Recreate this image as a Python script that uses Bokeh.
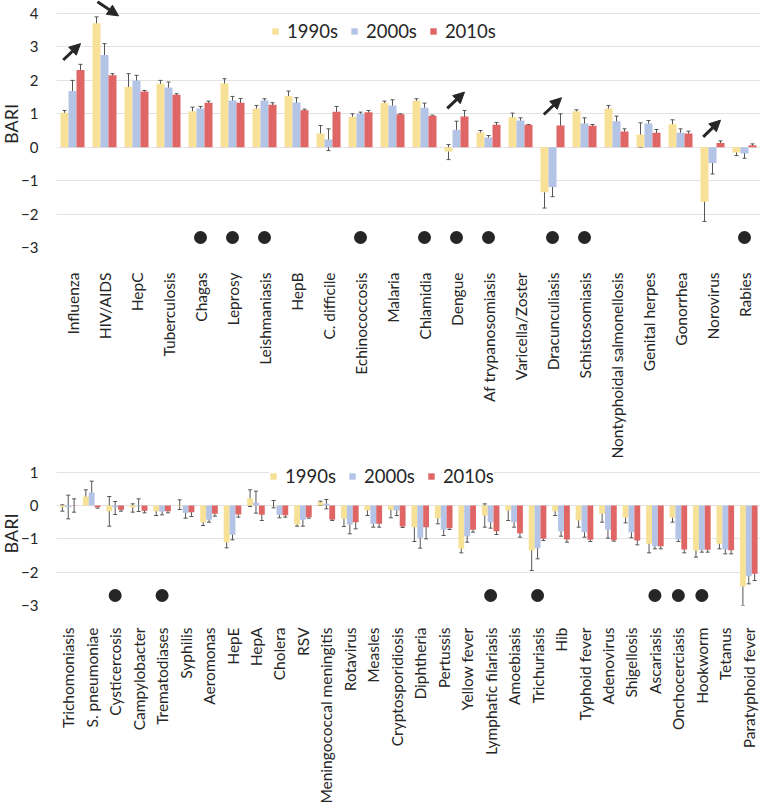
import math
from bokeh.plotting import figure
from bokeh.models import (ColumnDataSource, FactorRange, Range1d, FixedTicker, Whisker, TeeHead,
                          Legend, LegendItem, Arrow, NormalHead, Title)
from bokeh.transform import dodge
from bokeh.layouts import column
from bokeh.embed import file_html
from bokeh.resources import INLINE

# ---------------- data: top panel ----------------
top_cats = ["Influenza", "HIV/AIDS", "HepC", "Tuberculosis", "Chagas", "Leprosy", "Leishmaniasis",
            "HepB", "C. difficile", "Echinococcosis", "Malaria", "Chlamidia", "Dengue",
            "Af trypanosomiasis", "Varicella/Zoster", "Dracunculiasis", "Schistosomiasis",
            "Nontyphoidal salmonellosis", "Genital herpes", "Gonorrhea", "Norovirus", "Rabies"]
top_1990 = [1.03, 3.71, 1.80, 1.90, 1.08, 1.91, 1.16, 1.53, 0.41, 0.91, 1.32, 1.39, -0.13, 0.44,
            0.90, -1.35, 1.08, 1.16, 0.38, 0.69, -1.63, -0.16]
top_1990_lo = [0.95, 3.55, 1.35, 1.80, 0.95, 1.78, 1.05, 1.40, 0.15, 0.82, 1.26, 1.32, -0.37, 0.38,
               0.80, -1.82, 1.03, 1.08, 0.00, 0.58, -2.22, -0.25]
top_1990_hi = [1.10, 3.90, 2.20, 2.00, 1.20, 2.05, 1.25, 1.68, 0.65, 1.00, 1.38, 1.45, 0.08, 0.50,
               1.02, -0.95, 1.12, 1.25, 0.73, 0.82, -1.03, -0.10]
top_2000 = [1.68, 2.76, 2.00, 1.79, 1.16, 1.40, 1.40, 1.34, 0.23, 1.00, 1.25, 1.18, 0.52, 0.29,
            0.80, -1.19, 0.71, 0.78, 0.71, 0.43, -0.47, -0.19]
top_2000_lo = [1.40, 2.40, 1.80, 1.60, 1.08, 1.28, 1.35, 1.20, -0.10, 0.95, 1.10, 1.05, 0.25, 0.22,
               0.72, -1.48, 0.55, 0.65, 0.62, 0.30, -0.80, -0.33]
top_2000_hi = [2.00, 3.10, 2.15, 1.95, 1.22, 1.52, 1.45, 1.48, 0.55, 1.05, 1.42, 1.32, 0.78, 0.35,
               0.88, -0.95, 0.88, 0.93, 0.80, 0.55, -0.15, -0.08]
top_2010 = [2.31, 2.15, 1.67, 1.57, 1.33, 1.33, 1.27, 1.11, 1.06, 1.05, 0.99, 0.94, 0.92, 0.67,
            0.67, 0.65, 0.64, 0.47, 0.43, 0.41, 0.13, 0.06]
top_2010_lo = [2.20, 2.10, 1.63, 1.54, 1.28, 1.20, 1.20, 1.08, 0.90, 1.00, 0.97, 0.92, 0.75, 0.60,
               0.65, 0.30, 0.60, 0.40, 0.33, 0.35, 0.07, 0.02]
top_2010_hi = [2.48, 2.20, 1.70, 1.60, 1.38, 1.46, 1.33, 1.14, 1.22, 1.10, 1.00, 0.96, 1.10, 0.74,
               0.68, 1.00, 0.68, 0.55, 0.53, 0.48, 0.19, 0.10]
top_marked = ["Chagas", "Leprosy", "Leishmaniasis", "Echinococcosis", "Chlamidia", "Dengue",
              "Af trypanosomiasis", "Dracunculiasis", "Schistosomiasis", "Rabies"]
top_arrow_cats = ["Influenza", "HIV/AIDS", "Dengue", "Dracunculiasis", "Norovirus"]
top_arrow_dx0 = [-0.29, -0.22, -0.29, -0.27, -0.29]
top_arrow_dx1 = [0.25, 0.44, 0.25, 0.28, 0.25]
top_arrow_y0 = [2.61, 4.35, 1.16, 0.98, 0.31]
top_arrow_y1 = [3.10, 3.93, 1.65, 1.48, 0.81]

# ---------------- data: bottom panel ----------------
bot_cats = ["Trichomoniasis", "S. pneumoniae", "Cysticercosis", "Campylobacter", "Trematodiases",
            "Syphilis", "Aeromonas", "HepE", "HepA", "Cholera", "RSV", "Meningococcal meningitis",
            "Rotavirus", "Measles", "Cryptosporidiosis", "Diphtheria", "Pertussis", "Yellow fever",
            "Lymphatic filariasis", "Amoebiasis", "Trichuriasis", "Hib", "Typhoid fever",
            "Adenovirus", "Shigellosis", "Ascariasis", "Onchocerciasis", "Hookworm", "Tetanus",
            "Paratyphoid fever"]
bot_1990 = [-0.05, 0.27, -0.17, -0.06, -0.17, -0.02, -0.50, -1.10, 0.22, -0.01, -0.57, 0.10, -0.40,
            -0.15, -0.13, -0.65, -0.38, -1.30, -0.30, -0.15, -1.35, -0.17, -0.45, -0.25, -0.37,
            -1.15, -0.37, -1.35, -1.15, -2.43]
bot_1990_lo = [-0.17, 0.07, -0.62, -0.20, -0.30, -0.12, -0.60, -1.27, -0.03, -0.07, -0.62, 0.00,
               -0.63, -0.30, -0.37, -1.08, -0.55, -1.42, -0.65, -0.45, -1.95, -0.30, -0.65, -0.50,
               -0.52, -1.42, -0.50, -1.55, -1.30, -3.00]
bot_1990_hi = [0.02, 0.47, 0.27, 0.05, -0.12, 0.17, -0.43, -0.97, 0.47, 0.15, -0.50, 0.13, -0.13,
               -0.10, -0.10, -0.20, -0.35, -1.23, 0.05, -0.10, -0.75, -0.12, -0.25, -0.05, -0.25,
               -0.92, -0.22, -1.20, -1.00, -1.83]
bot_2000 = [-0.05, 0.39, -0.05, -0.02, -0.18, -0.22, -0.43, -0.88, 0.08, -0.28, -0.43, 0.05, -0.57,
            -0.55, -0.15, -0.97, -0.73, -0.92, -0.50, -0.50, -1.28, -0.77, -0.80, -0.72, -0.80,
            -1.22, -1.02, -1.33, -1.32, -2.12]
bot_2000_lo = [-0.40, 0.05, -0.27, -0.18, -0.28, -0.38, -0.50, -1.03, -0.23, -0.37, -0.62, -0.10,
               -0.85, -0.65, -0.30, -1.28, -0.90, -1.10, -0.68, -0.65, -1.60, -0.92, -0.95, -0.98,
               -0.97, -1.30, -1.08, -1.40, -1.45, -2.35]
bot_2000_hi = [0.31, 0.73, 0.12, 0.20, -0.12, -0.10, -0.38, -0.75, 0.43, -0.15, -0.33, 0.18, -0.40,
               -0.50, -0.10, -0.60, -0.55, -0.75, -0.35, -0.40, -0.95, -0.62, -0.70, -0.50, -0.63,
               -1.10, -0.98, -1.25, -1.25, -1.90]
bot_2010 = [-0.01, -0.05, -0.13, -0.16, -0.17, -0.20, -0.25, -0.27, -0.28, -0.29, -0.35, -0.42,
            -0.50, -0.55, -0.63, -0.65, -0.68, -0.73, -0.77, -0.83, -1.00, -1.02, -1.03, -1.04,
            -1.05, -1.22, -1.32, -1.33, -1.34, -2.05]
bot_2010_lo = [-0.20, -0.08, -0.17, -0.22, -0.22, -0.33, -0.32, -0.35, -0.45, -0.35, -0.38, -0.45,
               -0.70, -0.65, -0.66, -1.00, -0.72, -0.80, -0.87, -0.95, -1.05, -1.10, -1.08, -1.07,
               -1.18, -1.30, -1.42, -1.40, -1.45, -2.25]
bot_2010_hi = [0.20, -0.03, -0.10, -0.13, -0.10, -0.10, -0.20, -0.22, -0.15, -0.20, -0.30, -0.40,
               -0.38, -0.50, -0.60, -0.30, -0.60, -0.68, -0.68, -0.80, -0.95, -0.95, -0.98, -0.98,
               -0.90, -1.15, -1.28, -1.27, -1.25, -1.82]
bot_marked = ["Cysticercosis", "Trematodiases", "Lymphatic filariasis", "Trichuriasis",
              "Ascariasis", "Onchocerciasis", "Hookworm"]

series_names = ["1990s", "2000s", "2010s"]
marker_level = -2.7
y_title = "BARI"

# ---------------- styles ----------------
FONT = "Lato"
COLORS = ["#f7e196", "#b4c4e6", "#e06666"]
OFFSETS = [-0.25, 0.0, 0.25]
TEXT = "#262626"


def make_panel(cats, vals, los, his, marked, y_lo, y_hi, ticks, frame_h, legend_loc,
               x_standoff, arrows=None):
    p = figure(x_range=FactorRange(*cats), y_range=Range1d(y_lo, y_hi),
               frame_width=704, frame_height=frame_h,
               min_border_left=0, min_border_right=2, min_border_top=0, min_border_bottom=0,
               output_backend="svg", toolbar_location=None)
    p.outline_line_color = None
    p.xgrid.grid_line_color = None
    p.ygrid.grid_line_color = "#e3e3e3"
    p.ygrid.grid_line_width = 1

    src = {"cat": cats}
    for i in range(3):
        src[f"v{i}"] = vals[i]
        src[f"lo{i}"] = los[i]
        src[f"hi{i}"] = his[i]
    source = ColumnDataSource(src)

    items = []
    for i in range(3):
        r = p.vbar(x=dodge("cat", OFFSETS[i], range=p.x_range), top=f"v{i}", bottom=0,
                   width=0.25, source=source, fill_color=COLORS[i], line_color=None)
        items.append(LegendItem(label=series_names[i], renderers=[r]))
    for i in range(3):
        w = Whisker(base=dodge("cat", OFFSETS[i], range=p.x_range), lower=f"lo{i}",
                    upper=f"hi{i}", source=source, line_color="#555555", line_width=1,
                    upper_head=TeeHead(size=4, line_color="#555555", line_width=1),
                    lower_head=TeeHead(size=4, line_color="#555555", line_width=1))
        p.add_layout(w)

    msrc = ColumnDataSource(dict(cat=marked, y=[marker_level] * len(marked)))
    p.scatter(x="cat", y="y", size=13, fill_color=TEXT, line_color=None, source=msrc)

    if arrows is not None:
        a_cats, dx0, dx1, y0, y1 = arrows
        xs0 = [cats.index(c) + 0.5 + d for c, d in zip(a_cats, dx0)]
        xs1 = [cats.index(c) + 0.5 + d for c, d in zip(a_cats, dx1)]
        asrc = ColumnDataSource(dict(x0=xs0, x1=xs1, y0=y0, y1=y1))
        p.add_layout(Arrow(end=NormalHead(size=11, fill_color=TEXT, line_color=TEXT),
                           x_start="x0", y_start="y0", x_end="x1", y_end="y1",
                           line_color=TEXT, line_width=3, source=asrc))

    legend = Legend(items=items, orientation="horizontal", location=legend_loc,
                    glyph_width=8, glyph_height=8, label_standoff=8, spacing=12,
                    padding=2, margin=0, border_line_color=None,
                    background_fill_color="white", background_fill_alpha=1.0,
                    label_text_font=FONT, label_text_font_size="18.5px",
                    label_text_color=TEXT, label_height=20)
    p.add_layout(legend)

    p.add_layout(Title(text=y_title, align="center", text_font=FONT, text_font_size="18px",
                       text_font_style="normal", text_color=TEXT, standoff=-6, offset=0),
                 "left")

    p.yaxis.ticker = FixedTicker(ticks=ticks)
    p.yaxis.axis_line_color = None
    p.yaxis.major_tick_line_color = None
    p.yaxis.minor_tick_line_color = None
    p.yaxis.major_tick_out = 0
    p.yaxis.major_tick_in = 0
    p.yaxis.major_label_standoff = 18
    p.yaxis.major_label_text_font = FONT
    p.yaxis.major_label_text_font_size = "15px"
    p.yaxis.major_label_text_color = TEXT

    p.xaxis.axis_line_color = None
    p.xaxis.major_tick_line_color = None
    p.xaxis.minor_tick_line_color = None
    p.xaxis.major_tick_out = 0
    p.xaxis.major_tick_in = 0
    p.xaxis.major_label_orientation = math.pi / 2
    p.xaxis.major_label_standoff = x_standoff
    p.xaxis.major_label_text_font = FONT
    p.xaxis.major_label_text_font_size = "15.5px"
    p.xaxis.major_label_text_color = TEXT
    return p


top = make_panel(top_cats, [top_1990, top_2000, top_2010],
                 [top_1990_lo, top_2000_lo, top_2010_lo],
                 [top_1990_hi, top_2000_hi, top_2010_hi],
                 top_marked, -3, 4.39, list(range(-3, 5)), 247, (215, 205), 25,
                 arrows=(top_arrow_cats, top_arrow_dx0, top_arrow_dx1, top_arrow_y0, top_arrow_y1))
bottom = make_panel(bot_cats, [bot_1990, bot_2000, bot_2010],
                    [bot_1990_lo, bot_2000_lo, bot_2010_lo],
                    [bot_1990_hi, bot_2000_hi, bot_2010_hi],
                    bot_marked, -3, 1.32, list(range(-3, 2)), 144, (213, 118), 22)

layout = column(top, bottom, spacing=0)
open("out.html", "w").write(file_html(layout, INLINE))
